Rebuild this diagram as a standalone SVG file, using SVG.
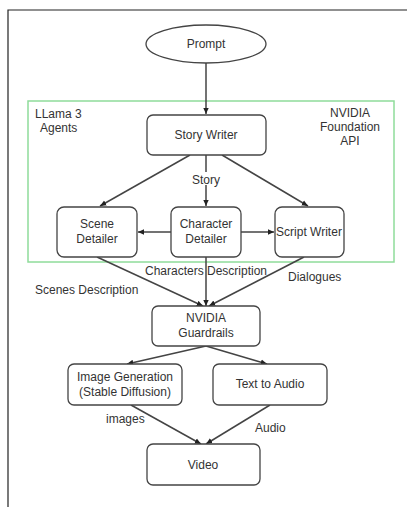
<svg xmlns="http://www.w3.org/2000/svg" width="407" height="507" viewBox="0 0 407 507">
<defs>
<marker id="ah" viewBox="0 0 10 10" refX="9" refY="5" markerWidth="7" markerHeight="7" orient="auto" markerUnits="userSpaceOnUse">
<path d="M0,1 L9,5 L0,9 Z" fill="#222"/>
</marker>
<style>
.n{fill:#fff;stroke:#444;stroke-width:1.3}
.t{font-family:"Liberation Sans",Arial,sans-serif;font-size:12px;fill:#333;text-anchor:middle}
.l{font-family:"Liberation Sans",Arial,sans-serif;font-size:12px;fill:#333}
.c{stroke:#444;stroke-width:1.5;fill:none;marker-end:url(#ah)}
</style>
</defs>
<rect width="407" height="507" fill="#fff"/>
<path d="M8,507 V10 H407" fill="none" stroke="#222" stroke-width="1.2"/>
<g id="group-llama">
<rect x="28" y="101" width="366" height="161" fill="none" stroke="#8fdc9a" stroke-width="1.5"/>
<text class="l" x="35" y="118">LLama 3</text>
<text class="l" x="40" y="132">Agents</text>
<text class="t" x="350" y="117">NVIDIA</text>
<text class="t" x="350" y="131">Foundation</text>
<text class="t" x="350" y="145">API</text>
</g>
<g id="connectors">
<line class="c" x1="206" y1="63" x2="206" y2="114"/>
<line class="c" x1="190" y1="155" x2="100" y2="206"/>
<line class="c" x1="206" y1="155" x2="206" y2="206"/>
<line class="c" x1="222" y1="155" x2="308" y2="206"/>
<line class="c" x1="171" y1="232" x2="138" y2="232"/>
<line class="c" x1="241" y1="232" x2="274" y2="232"/>
<line class="c" x1="97" y1="257" x2="203" y2="306"/>
<line class="c" x1="206" y1="257" x2="206" y2="306"/>
<line class="c" x1="304" y1="257" x2="209" y2="306"/>
<line class="c" x1="206" y1="346" x2="127" y2="364"/>
<line class="c" x1="206" y1="346" x2="267" y2="364"/>
<line class="c" x1="131" y1="405" x2="201" y2="444"/>
<line class="c" x1="270" y1="405" x2="206" y2="444"/>
<rect x="193" y="172" width="27" height="13" fill="#fff"/>
<text class="t" x="206" y="184">Story</text>
<text class="t" x="206" y="275">Characters Description</text>
<text class="l" x="288" y="281">Dialogues</text>
<text class="l" x="35" y="294">Scenes Description</text>
<text class="l" x="106" y="423">images</text>
<text class="l" x="255" y="432">Audio</text>
</g>
<g id="prompt">
<ellipse class="n" cx="206" cy="44" rx="60" ry="19"/>
<text class="t" x="206" y="48">Prompt</text>
</g>
<g id="story-writer">
<rect class="n" x="147" y="115" width="119" height="40" rx="6"/>
<text class="t" x="206" y="139">Story Writer</text>
</g>
<g id="scene-detailer">
<rect class="n" x="57" y="207" width="80" height="50" rx="7"/>
<text class="t" x="97" y="228">Scene</text>
<text class="t" x="97" y="243">Detailer</text>
</g>
<g id="character-detailer">
<rect class="n" x="171" y="207" width="70" height="50" rx="7"/>
<text class="t" x="206" y="228">Character</text>
<text class="t" x="206" y="243">Detailer</text>
</g>
<g id="script-writer">
<rect class="n" x="275" y="207" width="69" height="50" rx="7"/>
<text class="t" x="309" y="236">Script Writer</text>
</g>
<g id="guardrails">
<rect class="n" x="152" y="306" width="108" height="40" rx="6"/>
<text class="t" x="206" y="322">NVIDIA</text>
<text class="t" x="206" y="337">Guardrails</text>
</g>
<g id="image-generation">
<rect class="n" x="68" y="364" width="114" height="41" rx="6"/>
<text class="t" x="125" y="381">Image Generation</text>
<text class="t" x="125" y="396">(Stable Diffusion)</text>
</g>
<g id="text-to-audio">
<rect class="n" x="213" y="364" width="114" height="41" rx="6"/>
<text class="t" x="270" y="388">Text to Audio</text>
</g>
<g id="video">
<rect class="n" x="147" y="444" width="113" height="41" rx="6"/>
<text class="t" x="203" y="469">Video</text>
</g>
</svg>
